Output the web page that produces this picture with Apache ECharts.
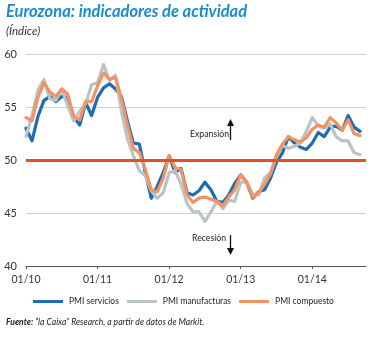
<!DOCTYPE html>
<html>
<head>
<meta charset="utf-8">
<script src="https://cdn.jsdelivr.net/npm/echarts@6/dist/echarts.min.js"></script>
<style>
  html, body { margin: 0; padding: 0; background: #fff; }
  #chart { width: 379px; height: 338px; }
</style>
</head>
<body>
<div id="chart"></div>
<script>
// Monthly categories, Jan 2010 to Oct 2014 (MM/YY)
const months = [];
for (let y = 10; y <= 14; y++) {
  for (let m = 1; m <= 12; m++) {
    if (y === 14 && m > 10) break;
    months.push(String(m).padStart(2, '0') + '/' + y);
  }
}

// PMI servicios
const pmiServicios = [
  53.0, 51.8, 54.1, 55.6, 56.0, 55.5, 56.0, 55.9, 54.1, 53.3, 55.4, 54.2,
  55.9, 56.8, 57.2, 56.7, 56.0, 53.7, 51.6, 51.5, 48.8, 46.4, 47.5, 48.8,
  50.4, 48.8, 49.2, 46.9, 46.7, 47.1, 47.9, 47.2, 46.1, 46.0, 46.7, 47.8,
  48.6, 47.9, 46.4, 47.0, 47.2, 48.3, 49.8, 50.7, 52.2, 51.6, 51.2, 51.0,
  51.6, 52.6, 52.2, 53.1, 53.2, 52.8, 54.2, 53.1, 52.7
];

// PMI manufacturas
const pmiManufacturas = [
  52.2, 54.2, 56.6, 57.6, 55.8, 55.6, 56.7, 55.1, 53.7, 54.6, 55.3, 57.1,
  57.3, 59.0, 57.5, 58.0, 54.6, 52.0, 50.4, 49.0, 48.5, 47.1, 46.4, 46.9,
  48.8, 49.0, 47.7, 45.9, 45.1, 45.1, 44.2, 45.1, 46.1, 45.4, 46.2, 46.1,
  47.9, 47.9, 46.8, 46.7, 48.3, 48.8, 50.3, 51.4, 51.1, 51.3, 51.6, 52.7,
  54.0, 53.2, 53.0, 53.4, 52.2, 51.8, 51.8, 50.7, 50.5
];

// PMI compuesto
const pmiCompuesto = [
  54.0, 53.7, 55.9, 57.3, 56.4, 56.0, 56.7, 56.2, 54.1, 53.8, 55.5, 55.5,
  57.0, 58.2, 57.6, 57.8, 55.8, 53.3, 51.1, 50.7, 49.1, 47.2, 47.0, 48.3,
  50.4, 49.3, 49.1, 46.7, 46.0, 46.4, 46.5, 46.3, 46.1, 45.7, 46.5, 47.2,
  48.6, 47.9, 46.5, 46.9, 47.7, 48.7, 50.5, 51.5, 52.2, 51.9, 51.7, 52.1,
  52.9, 53.3, 53.1, 54.0, 53.5, 52.8, 53.8, 52.5, 52.3
];

// Expansion / recession threshold
const umbral = 50;

const yTicks = { min: 40, max: 60, interval: 5 };

const FONT = 'Lato';
const chart = echarts.init(document.getElementById('chart'), null, { renderer: 'canvas' });

const isYearStart = (idx) => idx % 12 === 0;
const lineSeries = (name, data, color, z) => ({
  name, type: 'line', data, z,
  symbol: 'none', smooth: false,
  lineStyle: { color, width: 3.2, cap: 'round', join: 'round' },
  itemStyle: { color },
  emphasis: { disabled: true },
  animation: false
});

const compuesto = lineSeries('PMI compuesto', pmiCompuesto, '#F4935F', 4);
compuesto.markLine = {
  silent: true,
  symbol: ['none', 'none'],
  label: { show: false },
  lineStyle: { color: '#E4521B', width: 3, type: 'solid' },
  emphasis: { disabled: true },
  data: [{ yAxis: umbral }],
  animation: false
};

chart.setOption({
  animation: false,
  textStyle: { fontFamily: FONT },
  grid: { left: 26, right: 13, top: 54, bottom: 72 },
  xAxis: {
    type: 'category',
    data: months,
    boundaryGap: false,
    axisLine: { lineStyle: { color: '#555', width: 1 } },
    axisTick: { interval: (i) => isYearStart(i), length: 3, lineStyle: { color: '#555' } },
    axisLabel: { interval: (i) => isYearStart(i), color: '#333', fontSize: 10.5, margin: 8, fontFamily: FONT },
    splitLine: { show: false }
  },
  yAxis: {
    type: 'value',
    min: yTicks.min, max: yTicks.max, interval: yTicks.interval,
    axisLine: { show: false },
    axisTick: { show: false },
    axisLabel: { color: '#333', fontSize: 11, margin: 9, fontFamily: FONT },
    splitLine: { lineStyle: { color: '#d2d2d2', width: 1 } }
  },
  legend: {
    left: 33, top: 297,
    icon: 'rect', itemWidth: 30, itemHeight: 3, itemGap: 8, padding: 0,
    textStyle: { color: '#222', fontSize: 8.5, fontFamily: FONT, padding: [0, 0, 0, 1] },
    data: ['PMI servicios', 'PMI manufacturas', 'PMI compuesto']
  },
  graphic: [
    { type: 'text', left: 6, top: 3,
      style: { text: 'Eurozona: indicadores de actividad', fill: '#1B8BD0',
               font: `italic bold 16.5px "${FONT}"` } },
    { type: 'text', left: 6, top: 25,
      style: { text: '(Índice)', fill: '#333', font: `italic 11.5px "${FONT}"` } },
    // annotations
    { type: 'text', left: 190, top: 130,
      style: { text: 'Expansión', fill: '#222', font: `8.7px "${FONT}"` } },
    { type: 'line', shape: { x1: 230.5, y1: 123, x2: 230.5, y2: 140 },
      style: { stroke: '#111', lineWidth: 1.3 } },
    { type: 'polygon', shape: { points: [[227, 126], [230.5, 119], [234, 126]] },
      style: { fill: '#111' } },
    { type: 'text', left: 192, top: 234,
      style: { text: 'Recesión', fill: '#222', font: `8.7px "${FONT}"` } },
    { type: 'line', shape: { x1: 230.5, y1: 235, x2: 230.5, y2: 251 },
      style: { stroke: '#111', lineWidth: 1.3 } },
    { type: 'polygon', shape: { points: [[227, 248], [230.5, 255], [234, 248]] },
      style: { fill: '#111' } },
    // source note
    { type: 'text', left: 6, top: 318,
      style: {
        text: '{b|Fuente:} “la Caixa” Research, a partir de datos de Markit.',
        fill: '#222', font: `italic 8.6px "${FONT}"`,
        rich: { b: { fontWeight: 'bold', fontStyle: 'italic', fontSize: 8.6, fontFamily: FONT, fill: '#222' } }
      } }
  ],
  series: [
    lineSeries('PMI servicios', pmiServicios, '#1C6DB4', 2),
    lineSeries('PMI manufacturas', pmiManufacturas, '#B9C4C8', 3),
    compuesto
  ]
});
</script>
</body>
</html>
